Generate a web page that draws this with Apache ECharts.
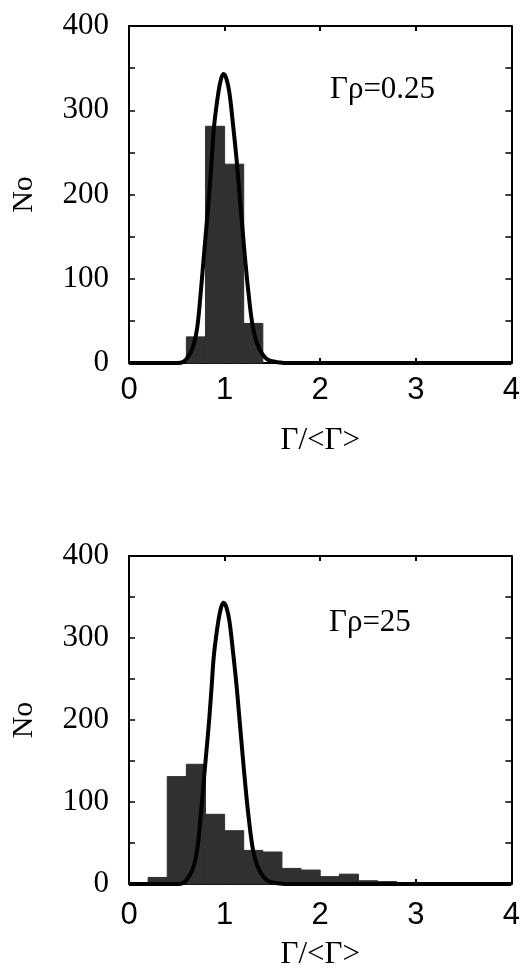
<!DOCTYPE html>
<html>
<head>
<meta charset="utf-8">
<script src="https://cdn.jsdelivr.net/npm/echarts@6/dist/echarts.min.js"></script>
<style>
  html, body { margin: 0; padding: 0; background: #fff; }
  #main { width: 523px; height: 971px; }
</style>
</head>
<body>
<div id="main"></div>
<script>
// histogram bins (left edge), width 0.2
var binWidth = 0.2;
var binsTop = [0.6, 0.8, 1.0, 1.2];
var countsTop = [31, 281, 236, 47];
var binsBottom = [0.2, 0.4, 0.6, 0.8, 1.0, 1.2, 1.4, 1.6, 1.8, 2.0, 2.2, 2.4, 2.6];
var countsBottom = [8, 131, 146, 85, 65, 41, 39, 19, 17, 9, 12, 4, 3];

// theory curve (same in both panels)
var curveX = [0, 0.5, 0.57, 0.64, 0.68, 0.715, 0.75, 0.78, 0.81, 0.84, 0.865, 0.89, 0.935, 0.965, 0.99, 1.02, 1.05, 1.09, 1.125, 1.155, 1.185, 1.215, 1.25, 1.295, 1.34, 1.39, 1.45, 1.50, 1.56, 1.62, 4];
var curveY = [0, 0, 1.5, 11.5, 23, 43, 83, 123, 162, 202, 242, 281, 321, 338, 343, 337, 321, 281, 242, 202, 162, 123, 83, 43, 23, 11.5, 4, 2, 1, 0, 0];

var xTicks = [0, 1, 2, 3, 4];
var labels = ['Γρ=0.25', 'Γρ=25'];

var chart = echarts.init(document.getElementById('main'));

function pairs(xs, ys) {
  return xs.map(function (x, i) { return [x, ys[i]]; });
}

function renderBar(params, api) {
  var p0 = api.coord([api.value(0), api.value(1)]);
  var p1 = api.coord([api.value(0) + binWidth, 0]);
  return {
    type: 'rect',
    shape: { x: p0[0], y: p0[1], width: p1[0] - p0[0], height: p1[1] - p0[1] },
    style: { fill: '#303030', stroke: '#303030', lineWidth: 1 }
  };
}

var serif = 'Liberation Serif';
var sans = 'Liberation Sans';
var line = { show: true, onZero: false, lineStyle: { color: '#000', width: 2 } };

function xBottom(grid, gap, margin) {
  return {
    type: 'value', gridIndex: grid, position: 'bottom', min: 0, max: 4, interval: 1,
    axisLine: line, splitLine: { show: false },
    axisTick: { show: true, inside: true, length: 5, lineStyle: { color: '#000', width: 2 } },
    axisLabel: { fontFamily: sans, fontSize: 31, color: '#000', margin: margin,
      formatter: function (v) { return xTicks.indexOf(v) >= 0 ? String(v) : ''; } },
    name: 'Γ/<Γ>', nameLocation: 'middle', nameGap: gap,
    nameTextStyle: { fontFamily: serif, fontSize: 31, color: '#000' }
  };
}
function xTop(grid) {
  return {
    type: 'value', gridIndex: grid, position: 'top', min: 0, max: 4, interval: 1,
    axisLine: line, splitLine: { show: false }, axisLabel: { show: false },
    axisTick: { show: true, inside: true, length: 5, lineStyle: { color: '#000', width: 2 } }
  };
}
function yLeft(grid) {
  return {
    type: 'value', gridIndex: grid, position: 'left', min: 0, max: 400, interval: 50,
    axisLine: line, splitLine: { show: false },
    axisTick: { show: true, inside: true, length: 6, lineStyle: { color: '#000', width: 1.5 } },
    axisLabel: { fontFamily: serif, fontSize: 31, color: '#000', margin: 20,
      formatter: function (v) { return v % 100 === 0 ? String(v) : ''; } },
    name: 'No', nameLocation: 'middle', nameGap: 90,
    nameTextStyle: { fontFamily: serif, fontSize: 30, color: '#000' }
  };
}
function yRight(grid) {
  return {
    type: 'value', gridIndex: grid, position: 'right', min: 0, max: 400, interval: 50,
    axisLine: line, splitLine: { show: false }, axisLabel: { show: false },
    axisTick: { show: true, inside: true, length: 6, lineStyle: { color: '#000', width: 1.5 } }
  };
}

var option = {
  animation: false,
  backgroundColor: '#fff',
  grid: [
    { left: 129, top: 26, width: 384, height: 337 },
    { left: 129, top: 556, width: 384, height: 337 }
  ],
  xAxis: [xBottom(0, 62, 12), xTop(0), xBottom(1, 55, 16), xTop(1)],
  yAxis: [yLeft(0), yRight(0), yLeft(1), yRight(1)],
  graphic: [
    { type: 'text', left: 330, top: 74, style: { text: labels[0], font: '31px "Liberation Serif"', fill: '#000' } },
    { type: 'text', left: 329, top: 607, style: { text: labels[1], font: '31px "Liberation Serif"', fill: '#000' } }
  ],
  series: [
    { type: 'custom', xAxisIndex: 0, yAxisIndex: 0, renderItem: renderBar,
      data: pairs(binsTop, countsTop), z: 2 },
    { type: 'line', xAxisIndex: 0, yAxisIndex: 0, data: pairs(curveX, curveY),
      smooth: 0.4, showSymbol: false, lineStyle: { color: '#000', width: 4 }, z: 3 },
    { type: 'custom', xAxisIndex: 2, yAxisIndex: 2, renderItem: renderBar,
      data: pairs(binsBottom, countsBottom), z: 2 },
    { type: 'line', xAxisIndex: 2, yAxisIndex: 2, data: pairs(curveX, curveY),
      smooth: 0.4, showSymbol: false, lineStyle: { color: '#000', width: 4 }, z: 3 }
  ]
};

chart.setOption(option);
</script>
</body>
</html>
